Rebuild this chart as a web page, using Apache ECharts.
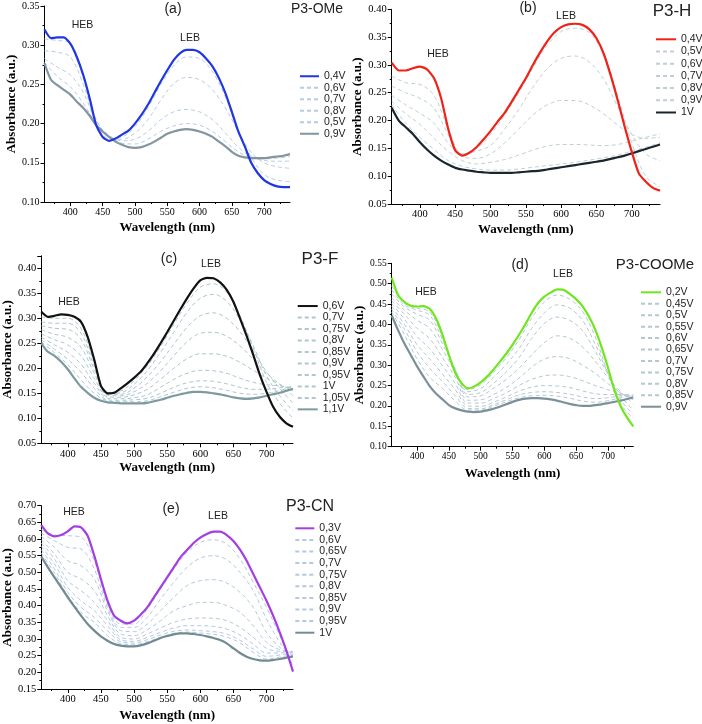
<!DOCTYPE html>
<html>
<head>
<meta charset="utf-8">
<script src="https://cdn.jsdelivr.net/npm/echarts@6/dist/echarts.min.js"></script>
<style>
html,body{margin:0;padding:0;background:#fff;}
#c{width:702px;height:724px;}
</style>
</head>
<body>
<div id="c"></div>
<script>
// ---------- wavelengths ----------
const WL10 = [360,370,380,390,400,410,420,430,440,450,460,470,480,490,500,510,520,530,540,550,560,570,580,590,600,610,620,630,640,650,660,670,680,690,700,710,720,730,740];
const WL20 = [360,380,400,420,440,460,480,500,520,540,560,580,600,620,640,660,680,700,720,740];
const X_MAJOR = [400,450,500,550,600,650,700];
const X_MINOR = [375,425,475,525,575,625,675,725];

// ---------- (a) P3-OMe ----------
const A_NAMES = ['0,4V','0,6V','0,7V','0,8V','0,5V','0,9V'];
const A_04V = [.320,.309,.310,.310,.302,.285,.262,.232,.198,.183,.178,.181,.186,.191,.200,.211,.224,.239,.254,.268,.281,.290,.294,.294,.291,.283,.273,.258,.239,.215,.190,.171,.150,.137,.128,.123,.120,.119,.119];
const A_09V = [.277,.256,.249,.243,.237,.228,.220,.210,.198,.190,.183,.177,.173,.170,.169,.170,.173,.177,.182,.187,.190,.192,.193,.192,.190,.187,.183,.177,.171,.164,.159,.157,.156,.156,.156,.157,.158,.159,.161];
const A_06V = [.308,.306,.303,.258,.200,.181,.183,.196,.220,.250,.274,.285,.283,.266,.234,.190,.157,.135,.128,.126];
const A_07V = [.293,.291,.285,.250,.205,.183,.180,.188,.205,.230,.251,.259,.256,.243,.220,.190,.163,.150,.145,.143];
const A_08V = [.283,.272,.262,.240,.203,.185,.178,.180,.190,.205,.215,.218,.215,.205,.188,.170,.158,.153,.152,.152];
const A_05V = [.278,.260,.247,.226,.200,.184,.175,.174,.180,.190,.197,.200,.198,.190,.177,.164,.157,.155,.156,.158];

// ---------- (b) P3-H ----------
const B_NAMES = ['0,4V','0,5V','0,6V','0,7V','0,8V','0,9V','1V'];
const B_04V = [.304,.290,.290,.294,.297,.292,.276,.240,.185,.146,.137,.142,.152,.166,.181,.198,.214,.234,.255,.276,.300,.322,.342,.358,.368,.373,.374,.372,.364,.348,.321,.282,.237,.189,.144,.105,.090,.079,.074];
const B_1V  = [.223,.200,.188,.176,.161,.148,.137,.128,.121,.115,.112,.110,.108,.107,.106,.106,.106,.106,.107,.108,.109,.110,.112,.114,.116,.118,.120,.122,.124,.126,.128,.131,.134,.137,.141,.145,.149,.153,.157];
const B_05V = [.280,.268,.265,.245,.185,.140,.150,.175,.210,.250,.295,.335,.360,.366,.358,.320,.245,.160,.100,.081];
const B_06V = [.262,.250,.240,.222,.175,.140,.145,.155,.185,.220,.260,.293,.312,.316,.305,.275,.225,.175,.140,.128];
const B_07V = [.245,.228,.213,.195,.160,.135,.132,.140,.160,.185,.210,.228,.236,.236,.228,.212,.192,.175,.168,.170];
const B_08V = [.235,.212,.193,.168,.145,.128,.122,.125,.130,.138,.147,.154,.157,.157,.156,.155,.157,.163,.170,.176];
const B_09V = [.228,.195,.170,.148,.128,.118,.113,.111,.111,.113,.116,.119,.122,.125,.129,.133,.138,.145,.152,.160];

// ---------- (c) P3-F ----------
const C_NAMES = ['0,6V','0,7V','0,75V','0,8V','0,85V','0,9V','0,95V','1V','1,05V','1,1V'];
const C_06V = [.313,.303,.305,.308,.307,.303,.293,.263,.217,.165,.150,.151,.160,.170,.181,.193,.210,.229,.250,.272,.295,.318,.340,.360,.376,.381,.380,.372,.357,.333,.300,.265,.227,.187,.153,.123,.103,.090,.083];
const C_11V = [.250,.233,.225,.213,.198,.180,.163,.151,.141,.135,.132,.131,.130,.130,.130,.130,.131,.134,.137,.141,.145,.148,.151,.153,.153,.152,.150,.148,.145,.142,.140,.139,.140,.142,.145,.148,.151,.155,.159];
const C_07V  = [.303,.300,.300,.280,.212,.152,.155,.175,.205,.243,.288,.330,.362,.369,.352,.305,.240,.172,.130,.100];
const C_075V = [.293,.290,.290,.270,.205,.150,.151,.168,.195,.232,.272,.312,.340,.348,.334,.297,.245,.185,.145,.115];
const C_08V  = [.285,.280,.278,.258,.198,.148,.148,.160,.183,.213,.248,.282,.305,.311,.300,.273,.235,.193,.160,.130];
const C_085V = [.277,.268,.262,.242,.190,.146,.145,.153,.170,.195,.225,.253,.270,.272,.264,.245,.218,.190,.168,.145];
const C_09V  = [.269,.257,.247,.225,.180,.143,.142,.147,.158,.178,.200,.219,.229,.229,.224,.212,.196,.180,.168,.155];
const C_095V = [.262,.247,.232,.208,.170,.140,.139,.141,.147,.162,.178,.190,.196,.195,.190,.180,.172,.167,.165,.160];
const C_1V   = [.257,.238,.218,.192,.160,.137,.136,.137,.140,.150,.162,.171,.175,.174,.169,.162,.158,.158,.161,.163];
const C_105V = [.253,.231,.207,.177,.150,.135,.133,.133,.135,.143,.152,.160,.163,.161,.156,.150,.148,.150,.155,.165];

// ---------- (d) P3-COOMe ----------
const D_NAMES = ['0,2V','0,45V','0,5V','0,55V','0,6V','0,65V','0,7V','0,75V','0,8V','0,85V','0,9V'];
const D_02V = [.515,.472,.455,.446,.444,.445,.438,.414,.374,.325,.281,.256,.243,.248,.258,.272,.289,.308,.328,.350,.374,.400,.428,.452,.468,.478,.486,.485,.475,.462,.445,.420,.388,.345,.295,.240,.200,.172,.150];
const D_09V = [.422,.386,.353,.325,.297,.272,.248,.230,.216,.202,.194,.189,.186,.185,.186,.189,.193,.198,.204,.210,.215,.218,.219,.219,.218,.216,.213,.209,.205,.202,.200,.200,.202,.204,.207,.210,.213,.217,.221];
const D_045V = [.495,.452,.440,.430,.370,.285,.240,.252,.282,.318,.362,.415,.455,.472,.462,.432,.370,.280,.205,.170];
const D_05V  = [.485,.448,.435,.422,.362,.290,.235,.243,.270,.302,.340,.390,.428,.448,.440,.410,.352,.280,.215,.180];
const D_055V = [.475,.443,.425,.410,.352,.290,.228,.233,.255,.283,.318,.365,.402,.418,.410,.385,.335,.278,.225,.190];
const D_06V  = [.465,.435,.410,.390,.338,.283,.222,.225,.243,.265,.292,.325,.355,.372,.366,.345,.310,.270,.235,.205];
const D_065V = [.458,.425,.390,.365,.318,.270,.214,.215,.228,.245,.268,.295,.315,.321,.316,.300,.280,.255,.232,.215];
const D_07V  = [.451,.413,.370,.340,.298,.255,.207,.207,.218,.232,.250,.265,.274,.276,.272,.262,.250,.240,.230,.222];
const D_075V = [.444,.400,.350,.315,.278,.240,.200,.199,.209,.222,.236,.246,.250,.249,.245,.237,.230,.228,.228,.226];
const D_08V  = [.437,.388,.333,.292,.260,.225,.194,.193,.203,.215,.227,.233,.235,.233,.229,.222,.218,.220,.225,.228];
const D_085V = [.430,.375,.315,.270,.243,.212,.190,.190,.199,.210,.220,.225,.226,.224,.219,.212,.209,.213,.220,.226];

// ---------- (e) P3-CN ----------
const E_NAMES = ['0,3V','0,6V','0,65V','0,7V','0,75V','0,8V','0,85V','0,9V','0,95V','1V'];
const E_03V = [.642,.617,.608,.612,.623,.638,.635,.610,.550,.480,.415,.370,.355,.347,.355,.373,.395,.425,.455,.485,.515,.545,.567,.588,.604,.615,.622,.622,.612,.594,.568,.535,.495,.455,.415,.370,.320,.265,.202];
const E_1V  = [.547,.515,.485,.455,.425,.397,.370,.345,.325,.308,.295,.285,.280,.278,.278,.281,.287,.295,.303,.309,.314,.317,.317,.315,.312,.308,.303,.297,.287,.272,.258,.247,.240,.236,.235,.237,.240,.244,.248];
const E_06V  = [.628,.612,.610,.605,.535,.405,.345,.345,.390,.450,.510,.560,.590,.598,.585,.540,.470,.395,.310,.218];
const E_065V = [.618,.595,.575,.570,.510,.395,.335,.335,.365,.420,.470,.515,.543,.550,.538,.500,.445,.360,.290,.235];
const E_07V  = [.608,.575,.535,.520,.480,.385,.325,.322,.345,.385,.425,.460,.475,.478,.468,.440,.395,.320,.275,.250];
const E_075V = [.598,.555,.500,.480,.445,.370,.315,.310,.328,.355,.385,.400,.410,.410,.400,.380,.340,.290,.268,.260];
const E_08V  = [.588,.540,.475,.445,.410,.355,.305,.300,.315,.333,.350,.360,.363,.362,.355,.335,.305,.272,.263,.263];
const E_085V = [.578,.525,.455,.415,.385,.340,.298,.293,.305,.320,.333,.340,.340,.338,.330,.312,.285,.258,.258,.262];
const E_09V  = [.568,.510,.440,.395,.365,.325,.292,.288,.298,.312,.323,.327,.325,.322,.315,.296,.270,.248,.252,.258];
const E_095V = [.558,.498,.430,.380,.350,.310,.286,.283,.292,.305,.317,.321,.318,.314,.306,.288,.260,.240,.246,.253];

// ---------- panel layout & styles ----------
const PANELS = [
  { id:'a', names:A_NAMES, main:A_04V, end:A_09V, dashed:[A_06V,A_07V,A_08V,A_05V],
    grid:{left:44.5, top:6, width:245.5, height:196}, ymin:0.10, ymax:0.35,
    mainColor:'#1f36e2', endColor:'#8395a0', dashColor:'#b8cbe4',
    tick:10, yGap:26, xGap:19.5,
    legend:{left:299, top:70.5, lh:11.5, iw:19},
    texts:[['(a)',173,9,14],['P3-OMe',317,9,14],['HEB',82.5,25,10.5],['LEB',190,38,10.5]] },
  { id:'b', names:B_NAMES, main:B_04V, end:B_1V, dashed:[B_05V,B_06V,B_07V,B_08V,B_09V],
    grid:{left:391.7, top:9.3, width:268.3, height:194.7}, ymin:0.05, ymax:0.40,
    mainColor:'#ee2218', endColor:'#1a252d', dashColor:'#bfd0d2',
    tick:10.5, yGap:28, xGap:19.5,
    legend:{left:655, top:33.2, lh:12.2, iw:20},
    texts:[['(b)',528,8,14],['P3-H',672,11,17],['HEB',438,54,10.5],['LEB',566,16,10.5]] },
  { id:'c', names:C_NAMES, main:C_06V, end:C_11V, dashed:[C_07V,C_075V,C_08V,C_085V,C_09V,C_095V,C_1V,C_105V],
    grid:{left:40, top:255.8, width:253, height:187.5}, ymin:0.05, ymax:0.425,
    mainColor:'#111111', endColor:'#7d9aa2', dashColor:'#aec6cc',
    tick:10.5, yGap:22.5, xGap:18,
    legend:{left:296.7, top:300.3, lh:11.48, iw:20},
    texts:[['(c)',169,259,14],['P3-F',320,259,17],['HEB',69,302,10.5],['LEB',211,264,10.5]] },
  { id:'d', names:D_NAMES, main:D_02V, end:D_09V, dashed:[D_045V,D_05V,D_055V,D_06V,D_065V,D_07V,D_075V,D_08V,D_085V],
    grid:{left:391.7, top:263.3, width:241.6, height:183.4}, ymin:0.10, ymax:0.55,
    mainColor:'#6fe61e', endColor:'#7b9098', dashColor:'#b4c8d0',
    tick:9.5, yGap:26, xGap:20,
    legend:{left:640, top:286.6, lh:11.44, iw:20},
    texts:[['(d)',520,265,14],['P3-COOMe',655,265,15],['HEB',426,292,10.5],['LEB',563,274,10.5]] },
  { id:'e', names:E_NAMES, main:E_03V, end:E_1V, dashed:[E_06V,E_065V,E_07V,E_075V,E_08V,E_085V,E_09V,E_095V],
    grid:{left:40, top:505.7, width:253, height:183.3}, ymin:0.15, ymax:0.70,
    mainColor:'#a23ee2', endColor:'#728a92', dashColor:'#b5c8e2',
    tick:10.5, yGap:24.5, xGap:20.5,
    legend:{left:294.3, top:522.5, lh:11.6, iw:19},
    texts:[['(e)',171,509,14],['P3-CN',310,507,16],['HEB',74,512,10.5],['LEB',218,516,10.5]] }
];

const SERIF = "'Liberation Serif','Times New Roman',serif";
const SANS = "'Liberation Sans',Arial,sans-serif";

const grids = [], xAxes = [], yAxes = [], series = [], legends = [], graphics = [];
const zip = (xs, ys) => xs.map((x, i) => [x, ys[i]]);

PANELS.forEach((p, i) => {
  grids.push(Object.assign({containLabel:false}, p.grid));
  xAxes.push({
    gridIndex:i, type:'value', min:360, max:740, position:'bottom',
    axisLine:{show:true, onZero:false, lineStyle:{color:'#000', width:1}},
    axisTick:{show:true, customValues:X_MAJOR, length:4, lineStyle:{color:'#000'}},
    axisLabel:{customValues:X_MAJOR, fontFamily:SERIF, fontSize:p.tick, color:'#000', margin:5},
    splitLine:{show:false},
    name:'Wavelength (nm)', nameLocation:'middle', nameGap:p.xGap,
    nameTextStyle:{fontFamily:SERIF, fontWeight:'bold', fontSize:13, color:'#000'}
  });
  xAxes.push({
    gridIndex:i, type:'value', min:360, max:740, position:'bottom',
    axisLine:{show:false, onZero:false},
    axisTick:{show:true, customValues:X_MINOR, length:2, lineStyle:{color:'#000'}},
    axisLabel:{show:false}, splitLine:{show:false}
  });
  yAxes.push({
    gridIndex:i, type:'value', min:p.ymin, max:p.ymax, interval:0.05,
    axisLine:{show:true, onZero:false, lineStyle:{color:'#000', width:1}},
    axisTick:{show:true, length:4, lineStyle:{color:'#000'}},
    minorTick:{show:true, splitNumber:2, length:2, lineStyle:{color:'#000'}},
    axisLabel:{fontFamily:SERIF, fontSize:p.tick, color:'#000', margin:5, showMaxLabel: p.id !== 'c',
      formatter: v => v.toFixed(2)},
    splitLine:{show:false}, minorSplitLine:{show:false},
    name:'Absorbance (a.u.)', nameLocation:'middle', nameGap:p.yGap, nameRotate:90,
    nameTextStyle:{fontFamily:SERIF, fontWeight:'bold', fontSize:13, color:'#000'}
  });
  const xi = i * 2;
  const n = p.names;
  p.dashed.forEach((d, k) => {
    series.push({
      name: p.id + '|' + n[k + 1], type:'line', xAxisIndex:xi, yAxisIndex:i,
      data: zip(WL20, d), showSymbol:false, symbol:'none', smooth:0.35, silent:true,
      lineStyle:{color:p.dashColor, width:1, type:[4,3]}, itemStyle:{color:p.dashColor}
    });
  });
  series.push({
    name: p.id + '|' + n[n.length - 1], type:'line', xAxisIndex:xi, yAxisIndex:i,
    data: zip(WL10, p.end), showSymbol:false, symbol:'none', smooth:0.25, silent:true,
    lineStyle:{color:p.endColor, width:2.2}, itemStyle:{color:p.endColor}
  });
  series.push({
    name: p.id + '|' + n[0], type:'line', xAxisIndex:xi, yAxisIndex:i,
    data: zip(WL10, p.main), showSymbol:false, symbol:'none', smooth:0.2, silent:true,
    lineStyle:{color:p.mainColor, width:2.2}, itemStyle:{color:p.mainColor}
  });
  legends.push({
    data: n.map(s => p.id + '|' + s), formatter: s => s.split('|')[1],
    orient:'vertical', left:p.legend.left, top:p.legend.top, padding:0,
    itemWidth:p.legend.iw, itemHeight:1, itemGap:0, selectedMode:false,
    itemStyle:{opacity:0},
    textStyle:{fontFamily:SANS, fontSize:10.5, color:'#222', lineHeight:p.legend.lh}
  });
  p.texts.forEach(t => {
    graphics.push({type:'text', silent:true, style:{text:t[0], x:t[1], y:t[2], textAlign:'center', textVerticalAlign:'middle',
      font: t[3] + 'px ' + SANS, fill:'#222'}});
  });
});

const chart = echarts.init(document.getElementById('c'), null, {renderer:'canvas'});
chart.setOption({
  animation:false, backgroundColor:'#fff',
  grid:grids, xAxis:xAxes, yAxis:yAxes, series:series, legend:legends, graphic:graphics
});
</script>
</body>
</html>
